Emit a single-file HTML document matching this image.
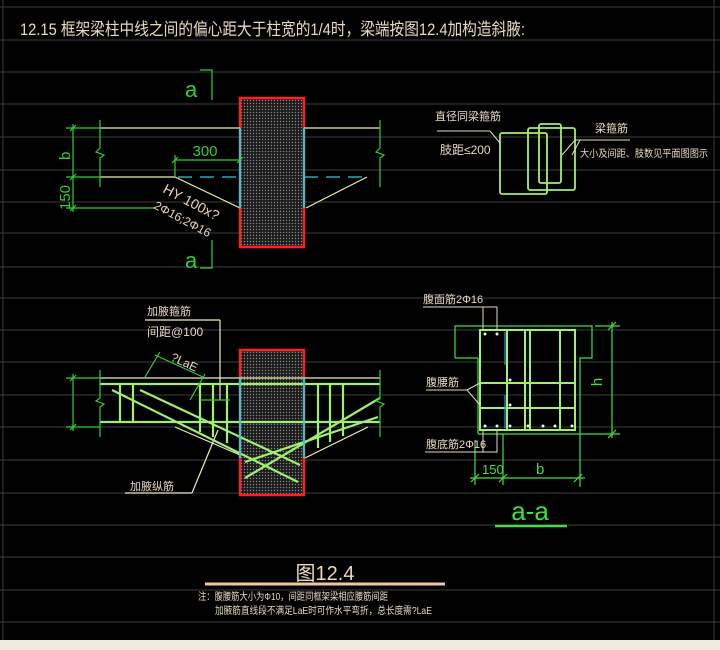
<!DOCTYPE html>
<html><head><meta charset="utf-8"><style>
html,body{margin:0;padding:0;background:#000;}
svg{display:block;}
text{font-family:"Liberation Sans","Noto Sans CJK SC",sans-serif;}
</style></head><body>
<svg width="720" height="650" viewBox="0 0 720 650" xmlns="http://www.w3.org/2000/svg">
<defs>
<pattern id="dots" width="3" height="3" patternUnits="userSpaceOnUse">
<rect width="3" height="3" fill="#1a1a1a"/><circle cx="1.5" cy="1.5" r="0.7" fill="#8a8a8a"/>
</pattern>
</defs>
<rect width="720" height="650" fill="#000"/>
<g stroke="#3c3c3c" stroke-width="1">
<line x1="0" y1="7" x2="720" y2="7"/><line x1="0" y1="40" x2="720" y2="40"/>
<line x1="0" y1="72" x2="720" y2="72"/><line x1="0" y1="104" x2="720" y2="104"/>
<line x1="0" y1="137" x2="720" y2="137"/><line x1="0" y1="170" x2="720" y2="170"/>
<line x1="0" y1="202" x2="720" y2="202"/><line x1="0" y1="233" x2="720" y2="233"/>
<line x1="0" y1="267" x2="720" y2="267"/><line x1="0" y1="298" x2="720" y2="298"/>
<line x1="0" y1="330" x2="720" y2="330"/><line x1="0" y1="362" x2="720" y2="362"/>
<line x1="0" y1="395" x2="720" y2="395"/><line x1="0" y1="427" x2="720" y2="427"/>
<line x1="0" y1="460" x2="720" y2="460"/><line x1="0" y1="493" x2="720" y2="493"/>
<line x1="0" y1="525" x2="720" y2="525"/><line x1="0" y1="557" x2="720" y2="557"/>
<line x1="0" y1="590" x2="720" y2="590"/><line x1="0" y1="622" x2="720" y2="622"/>
<line x1="3" y1="0" x2="3" y2="640"/><line x1="714" y1="0" x2="714" y2="640"/>
</g>
<rect x="0" y="640" width="720" height="10" fill="#ecebde"/>

<text x="20" y="35" fill="#e8d8c0" font-size="17" textLength="505" lengthAdjust="spacingAndGlyphs">12.15  框架梁柱中线之间的偏心距大于柱宽的1/4时，梁端按图12.4加构造斜腋:</text>

<!-- TOP PLAN -->
<rect x="240" y="98" width="64" height="149" fill="url(#dots)" stroke="#ff2020" stroke-width="2.5"/>
<g stroke="#f0f0b0" stroke-width="1.2" fill="none">
<line x1="100" y1="128" x2="240" y2="128"/><line x1="304" y1="128" x2="380" y2="128"/>
<line x1="100" y1="177" x2="175" y2="177"/>
<line x1="175" y1="177" x2="240" y2="208"/><line x1="367" y1="177" x2="306" y2="208"/>
</g>
<g stroke="#30c8d8" stroke-width="2" fill="none">
<line x1="240" y1="128" x2="240" y2="208"/><line x1="304" y1="128" x2="304" y2="208"/>
<line x1="178" y1="177" x2="240" y2="177" stroke-dasharray="14,8" stroke-width="1.2"/>
<line x1="304" y1="177" x2="367" y2="177" stroke-dasharray="14,8" stroke-width="1.2"/>
</g>
<g stroke="#30d030" stroke-width="1.2" fill="none">
<line x1="66" y1="128" x2="100" y2="128"/>
<line x1="73" y1="124" x2="73" y2="212"/>
<line x1="66" y1="208" x2="155" y2="208"/><line x1="66" y1="177" x2="100" y2="177"/>
<line x1="70" y1="131" x2="76" y2="125"/><line x1="70" y1="180" x2="76" y2="174"/><line x1="70" y1="211" x2="76" y2="205"/>
<polyline points="100,120 100,148 96,152 104,155 100,158 100,187"/>
<polyline points="380,120 380,148 376,152 384,155 380,158 380,187"/>
<line x1="175" y1="160" x2="240" y2="160"/><line x1="175" y1="155" x2="175" y2="177"/>
<line x1="172" y1="163" x2="178" y2="157"/><line x1="237" y1="163" x2="243" y2="157"/>
<polyline points="200,70 212,70 212,100"/><polyline points="212,240 212,268 200,268"/>
</g>
<text x="205" y="156" fill="#30d030" font-size="15" text-anchor="middle">300</text>
<text x="185" y="97" fill="#30d030" font-size="22">a</text>
<text x="185" y="268" fill="#30d030" font-size="22">a</text>
<text transform="translate(70,160) rotate(-90)" fill="#30d030" font-size="15">b</text>
<text transform="translate(70,210) rotate(-90)" fill="#30d030" font-size="15">150</text>
<text transform="translate(162,192) rotate(28)" fill="#e8d0c0" font-size="14">HY 100x?</text>
<text transform="translate(153,208) rotate(28)" fill="#e8d0c0" font-size="12">2Φ16;2Φ16</text>

<!-- top right stirrups -->
<g stroke="#a0f070" stroke-width="1.8" fill="none">
<rect x="500" y="133" width="47" height="61" rx="2"/>
<rect x="528" y="128" width="47" height="62" rx="2"/>
<rect x="539" y="124" width="22" height="59" rx="2"/>
</g>
<g stroke="#e8d8c0" stroke-width="1" fill="none">
<line x1="437" y1="131" x2="490" y2="131"/><line x1="490" y1="131" x2="500" y2="143"/>
<line x1="575" y1="140" x2="630" y2="140"/><line x1="575" y1="140" x2="562" y2="155"/><line x1="580" y1="140" x2="572" y2="155"/>
</g>
<text x="435" y="120" fill="#e8d8c0" font-size="11">直径同梁箍筋</text>
<text x="440" y="154" fill="#e8d8c0" font-size="12">肢距≤200</text>
<text x="595" y="132" fill="#e8d8c0" font-size="11">梁箍筋</text>
<text x="580" y="157" fill="#e8d8c0" font-size="10" textLength="128" lengthAdjust="spacingAndGlyphs">大小及间距、肢数见平面图图示</text>

<!-- BOTTOM LEFT -->
<rect x="240" y="350" width="64" height="145" fill="url(#dots)" stroke="#ff2020" stroke-width="2.5"/>
<g stroke="#f0f0b0" stroke-width="1.2" fill="none">
<line x1="100" y1="378" x2="380" y2="378"/>
<line x1="175" y1="427" x2="240" y2="455"/><line x1="368" y1="427" x2="305" y2="458"/>
<line x1="145" y1="320" x2="220" y2="320"/><line x1="220" y1="320" x2="220" y2="400"/>
<line x1="125" y1="493" x2="192" y2="493"/><line x1="192" y1="493" x2="218" y2="430"/>
</g>
<g stroke="#a0f070" stroke-width="2.2" fill="none">
<line x1="100" y1="384" x2="380" y2="384"/><line x1="100" y1="422" x2="380" y2="422"/>
<line x1="120" y1="384" x2="120" y2="422"/><line x1="133" y1="384" x2="133" y2="422"/>
<line x1="200" y1="384" x2="200" y2="432"/><line x1="213" y1="384" x2="213" y2="437"/><line x1="227" y1="384" x2="227" y2="443"/>
<line x1="318" y1="384" x2="318" y2="448"/><line x1="330" y1="384" x2="330" y2="442"/><line x1="343" y1="384" x2="343" y2="436"/>
<line x1="112" y1="390" x2="298" y2="482"/>
<line x1="140" y1="390" x2="300" y2="465"/>
<line x1="380" y1="398" x2="245" y2="478"/>
<line x1="378" y1="417" x2="245" y2="462"/>
</g>
<g stroke="#30c8d8" stroke-width="2"><line x1="240" y1="378" x2="240" y2="458"/><line x1="304" y1="378" x2="304" y2="458"/></g>
<g stroke="#30d030" stroke-width="1.2" fill="none">
<line x1="66" y1="378" x2="100" y2="378"/><line x1="66" y1="427" x2="100" y2="427"/>
<line x1="73" y1="374" x2="73" y2="431"/>
<line x1="70" y1="381" x2="76" y2="375"/><line x1="70" y1="430" x2="76" y2="424"/>
<polyline points="100,370 100,398 96,401 104,404 100,407 100,437"/>
<polyline points="380,370 380,398 376,401 384,404 380,407 380,437"/>
<line x1="155" y1="355" x2="203" y2="377"/><line x1="145" y1="377" x2="160" y2="352"/><line x1="190" y1="400" x2="205" y2="374"/>
<line x1="200" y1="400" x2="230" y2="400"/>
</g>
<text x="147" y="315" fill="#e8d8c0" font-size="11">加腋箍筋</text>
<text x="147" y="336" fill="#e8d8c0" font-size="12">间距@100</text>
<text transform="translate(170,360) rotate(25)" fill="#e8d8c0" font-size="12">?LaE</text>
<text x="130" y="490" fill="#e8d8c0" font-size="11">加腋纵筋</text>

<!-- BOTTOM RIGHT SECTION -->
<g stroke="#a0f070" stroke-width="2" fill="none">
<rect x="480" y="330" width="95" height="100"/>
<line x1="507" y1="330" x2="507" y2="430"/><line x1="525" y1="330" x2="525" y2="430"/>
<line x1="530" y1="330" x2="530" y2="430"/><line x1="560" y1="330" x2="560" y2="430"/>
<line x1="480" y1="383" x2="575" y2="383"/><line x1="480" y1="408" x2="575" y2="408"/>
</g>
<g stroke="#40e040" stroke-width="1.2" fill="none">
<polyline points="455,358 455,326 592,326 592,358 580,358 580,487"/>
<line x1="455" y1="358" x2="478" y2="358"/><line x1="478" y1="358" x2="478" y2="434"/>
<line x1="478" y1="434" x2="620" y2="434"/>
<line x1="612" y1="322" x2="612" y2="438"/><line x1="595" y1="326" x2="620" y2="326"/>
<line x1="608" y1="330" x2="616" y2="322"/><line x1="608" y1="438" x2="616" y2="430"/>
<line x1="470" y1="478" x2="585" y2="478"/><line x1="475" y1="440" x2="475" y2="485"/><line x1="503" y1="434" x2="503" y2="485"/>
<line x1="471" y1="482" x2="479" y2="474"/><line x1="499" y1="482" x2="507" y2="474"/><line x1="574" y1="482" x2="582" y2="474"/>
</g>
<line x1="505" y1="332" x2="505" y2="365" stroke="#3090e0" stroke-width="1.2"/>
<line x1="505" y1="395" x2="505" y2="428" stroke="#3090e0" stroke-width="1.2"/>
<g fill="#f0f0f0">
<circle cx="485" cy="334" r="1.5"/><circle cx="497" cy="334" r="1.5"/><circle cx="485" cy="426" r="1.5"/><circle cx="497" cy="426" r="1.5"/>
<circle cx="510" cy="426" r="1.5"/><circle cx="528" cy="426" r="1.5"/><circle cx="543" cy="426" r="1.5"/><circle cx="555" cy="426" r="1.5"/><circle cx="572" cy="426" r="1.5"/>
<circle cx="510" cy="380" r="1.5"/><circle cx="510" cy="405" r="1.5"/>
</g>
<g stroke="#e8d8c0" stroke-width="1" fill="none">
<polyline points="423,307 497,307 497,330"/><line x1="483" y1="307" x2="483" y2="330"/>
<polyline points="426,390 467,390 480,383"/><line x1="467" y1="390" x2="480" y2="405"/>
<polyline points="425,452 497,452 497,430"/><line x1="483" y1="452" x2="483" y2="430"/>
</g>
<text x="423" y="303" fill="#e8d8c0" font-size="11">腹面筋2Φ16</text>
<text x="426" y="386" fill="#e8d8c0" font-size="11">腹腰筋</text>
<text x="426" y="448" fill="#e8d8c0" font-size="11">腹底筋2Φ16</text>
<text x="482" y="474" fill="#40e040" font-size="13">150</text>
<text x="536" y="474" fill="#40e040" font-size="15">b</text>
<text transform="translate(602,382) rotate(-90)" fill="#40e040" font-size="15" text-anchor="middle">h</text>
<text x="530" y="520" fill="#40e040" font-size="26" text-anchor="middle">a-a</text>
<line x1="495" y1="526" x2="567" y2="526" stroke="#40e040" stroke-width="2.5"/>

<!-- bottom -->
<text x="325" y="580" fill="#e8d8c0" font-size="20" text-anchor="middle">图12.4</text>
<line x1="205" y1="584" x2="445" y2="584" stroke="#f0c8a0" stroke-width="3"/>
<text x="198" y="600" fill="#e8d8c0" font-size="10" textLength="190" lengthAdjust="spacingAndGlyphs">注：腹腰筋大小为Φ10，间距同框架梁相应腰筋间距</text>
<text x="215" y="614" fill="#e8d8c0" font-size="10" textLength="217" lengthAdjust="spacingAndGlyphs">加腋筋直线段不满足LaE时可作水平弯折，总长度需?LaE</text>
</svg>
</body></html>
